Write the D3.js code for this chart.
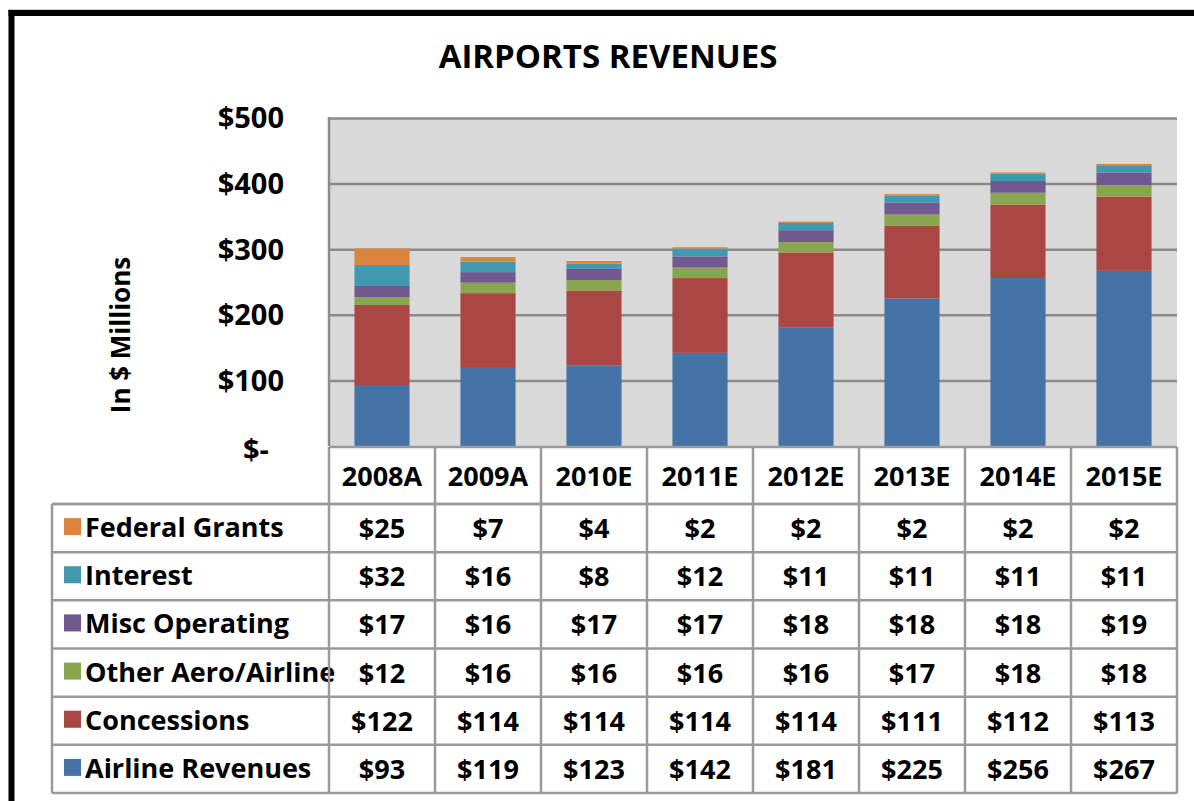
<!DOCTYPE html>
<html>
<head>
<meta charset="utf-8">
<script src="https://cdn.jsdelivr.net/npm/d3@7"></script>
<style>
  html, body { margin: 0; padding: 0; background: #fff; }
  svg { display: block; font-family: "Open Sans", Lato, "Liberation Sans", sans-serif; font-weight: 700; }
  svg text { font-family: "Open Sans", Lato, "Liberation Sans", sans-serif; font-weight: 700; }
</style>
</head>
<body>
<svg id="chart" width="1194" height="801"></svg>
<script>
// Years shown along the axis / table header
const categories = ["2008A", "2009A", "2010E", "2011E", "2012E", "2013E", "2014E", "2015E"];

// Revenue components, $ millions
const airlineRevenues = [93, 119, 123, 142, 181, 225, 256, 267];
const concessions     = [122, 114, 114, 114, 114, 111, 112, 113];
const otherAero       = [12, 16, 16, 16, 16, 17, 18, 18];
const miscOperating   = [17, 16, 17, 17, 18, 18, 18, 19];
const interest        = [32, 16, 8, 12, 11, 11, 11, 11];
const federalGrants   = [25, 7, 4, 2, 2, 2, 2, 2];

// Stack order from bottom to top
const seriesNames  = ["Airline Revenues", "Concessions", "Other Aero/Airline", "Misc Operating", "Interest", "Federal Grants"];
const seriesValues = [airlineRevenues, concessions, otherAero, miscOperating, interest, federalGrants];
const seriesColors = ["#4572A7", "#AA4643", "#89A54E", "#71588F", "#4198AF", "#DB843D"];

const yTicks = [0, 100, 200, 300, 400, 500];

const svg = d3.select("#chart");

// Outer frame (top and left rules)
svg.append("line").attr("x1", 8).attr("x2", 1194).attr("y1", 9.5).attr("y2", 9.5)
  .attr("stroke", "#c8c8c8").attr("stroke-width", 1);
svg.append("line").attr("x1", 11.5).attr("x2", 11.5).attr("y1", 10).attr("y2", 801)
  .attr("stroke", "#000").attr("stroke-width", 6);
svg.append("line").attr("x1", 8.5).attr("x2", 1194).attr("y1", 13).attr("y2", 13)
  .attr("stroke", "#000").attr("stroke-width", 6);

// Plot geometry
const plotLeft = 329, plotRight = 1177, plotTop = 118, plotBottom = 446;

const x = d3.scaleBand().domain(categories).range([plotLeft, plotRight]).paddingInner(0.48).paddingOuter(0.24);
const colX = d3.scaleBand().domain(categories).range([plotLeft, plotRight]);
const y = d3.scaleLinear().domain([0, 500]).range([plotBottom, plotTop]);

// Title
svg.append("text").attr("x", 608).attr("y", 68).attr("text-anchor", "middle")
  .attr("font-size", 33).attr("fill", "#000").text("AIRPORTS REVENUES");

// Plot background
svg.append("rect").attr("x", plotLeft).attr("y", plotTop)
  .attr("width", plotRight - plotLeft).attr("height", plotBottom - plotTop).attr("fill", "#d9d9d9");

// Gridlines
const grid = svg.append("g").attr("transform", `translate(${plotLeft},0)`)
  .call(d3.axisLeft(y).tickValues(yTicks.filter(d => d > 0)).tickSize(-(plotRight - plotLeft)).tickFormat(""));
grid.select(".domain").remove();
grid.selectAll(".tick line").attr("stroke", "#8a8a8a").attr("stroke-width", 2.5);

// Left edge of plot area
svg.append("line").attr("x1", plotLeft).attr("x2", plotLeft).attr("y1", plotTop - 1).attr("y2", plotBottom)
  .attr("stroke", "#8a8a8a").attr("stroke-width", 2.5);

// Stacked bars
const rows = categories.map((c, i) => {
  const r = { category: c };
  seriesNames.forEach((s, k) => r[s] = seriesValues[k][i]);
  return r;
});
const stacked = d3.stack().keys(seriesNames)(rows);

svg.append("g").selectAll("g").data(stacked).join("g")
  .attr("fill", (d, i) => seriesColors[i])
  .selectAll("rect").data(d => d).join("rect")
  .attr("x", d => x(d.data.category))
  .attr("width", x.bandwidth())
  .attr("y", d => y(d[1]))
  .attr("height", d => y(d[0]) - y(d[1]));

// Y axis labels
const yAxis = svg.append("g").attr("transform", `translate(${plotLeft},0)`)
  .call(d3.axisLeft(y).tickValues(yTicks).tickSize(0).tickPadding(45)
    .tickFormat(d => d === 0 ? "$-\u00A0\u00A0" : "$" + d));
yAxis.attr("font-family", null).attr("font-size", null);
yAxis.select(".domain").remove();
yAxis.selectAll("text").attr("font-size", 29).attr("fill", "#000").attr("dy", "0.34em");
yAxis.selectAll(".tick").filter(d => d === 0).select("text").attr("dy", "0.45em");

// Y axis title
svg.append("text").attr("transform", "translate(130,335) rotate(-90)")
  .attr("text-anchor", "middle").attr("font-size", 26).attr("fill", "#000").text("In $ Millions");

// Data table
const tableLeft = 52, headerTop = 447, headerBottom = 504, tableBottom = 793;
const rowY = d3.scaleBand().domain(seriesNames.slice().reverse()).range([headerBottom, tableBottom]);
const lineColor = "#9a9a9a";
const fs = 27;
const tbl = svg.append("g");

// Header row with category labels
tbl.selectAll("text.hdr").data(categories).join("text").attr("class", "hdr")
  .attr("x", d => colX(d) + colX.bandwidth() / 2)
  .attr("y", (headerTop + headerBottom) / 2 + 10)
  .attr("text-anchor", "middle").attr("font-size", fs).attr("fill", "#000").text(d => d);

// Value cells
seriesNames.forEach((s, k) => {
  const cy = rowY(s) + rowY.bandwidth() / 2;
  tbl.append("g").selectAll("text").data(seriesValues[k]).join("text")
    .attr("x", (d, i) => colX(categories[i]) + colX.bandwidth() / 2)
    .attr("y", cy + 10)
    .attr("text-anchor", "middle").attr("font-size", fs).attr("fill", "#000")
    .text(d => "$" + d);
  // Legend key
  tbl.append("rect").attr("x", 64).attr("y", cy - 10).attr("width", 17).attr("height", 17)
    .attr("fill", seriesColors[k]);
  tbl.append("text").attr("x", 85).attr("y", cy + 9)
    .attr("font-size", fs).attr("fill", "#000").text(s);
});

// Table grid lines
const hLines = [headerBottom, ...seriesNames.map(s => rowY(s)), tableBottom];
tbl.append("line").attr("x1", plotLeft).attr("x2", plotRight).attr("y1", headerTop).attr("y2", headerTop)
  .attr("stroke", lineColor).attr("stroke-width", 2.5);
tbl.selectAll("line.h").data(hLines).join("line").attr("class", "h")
  .attr("x1", tableLeft).attr("x2", plotRight).attr("y1", d => d).attr("y2", d => d)
  .attr("stroke", lineColor).attr("stroke-width", 2.5);
tbl.selectAll("line.v").data([...categories.map(c => colX(c)), plotRight]).join("line").attr("class", "v")
  .attr("x1", d => d).attr("x2", d => d).attr("y1", headerTop).attr("y2", tableBottom)
  .attr("stroke", lineColor).attr("stroke-width", 2.5);
tbl.append("line").attr("x1", tableLeft).attr("x2", tableLeft).attr("y1", headerBottom).attr("y2", tableBottom)
  .attr("stroke", lineColor).attr("stroke-width", 2.5);
</script>
</body>
</html>
